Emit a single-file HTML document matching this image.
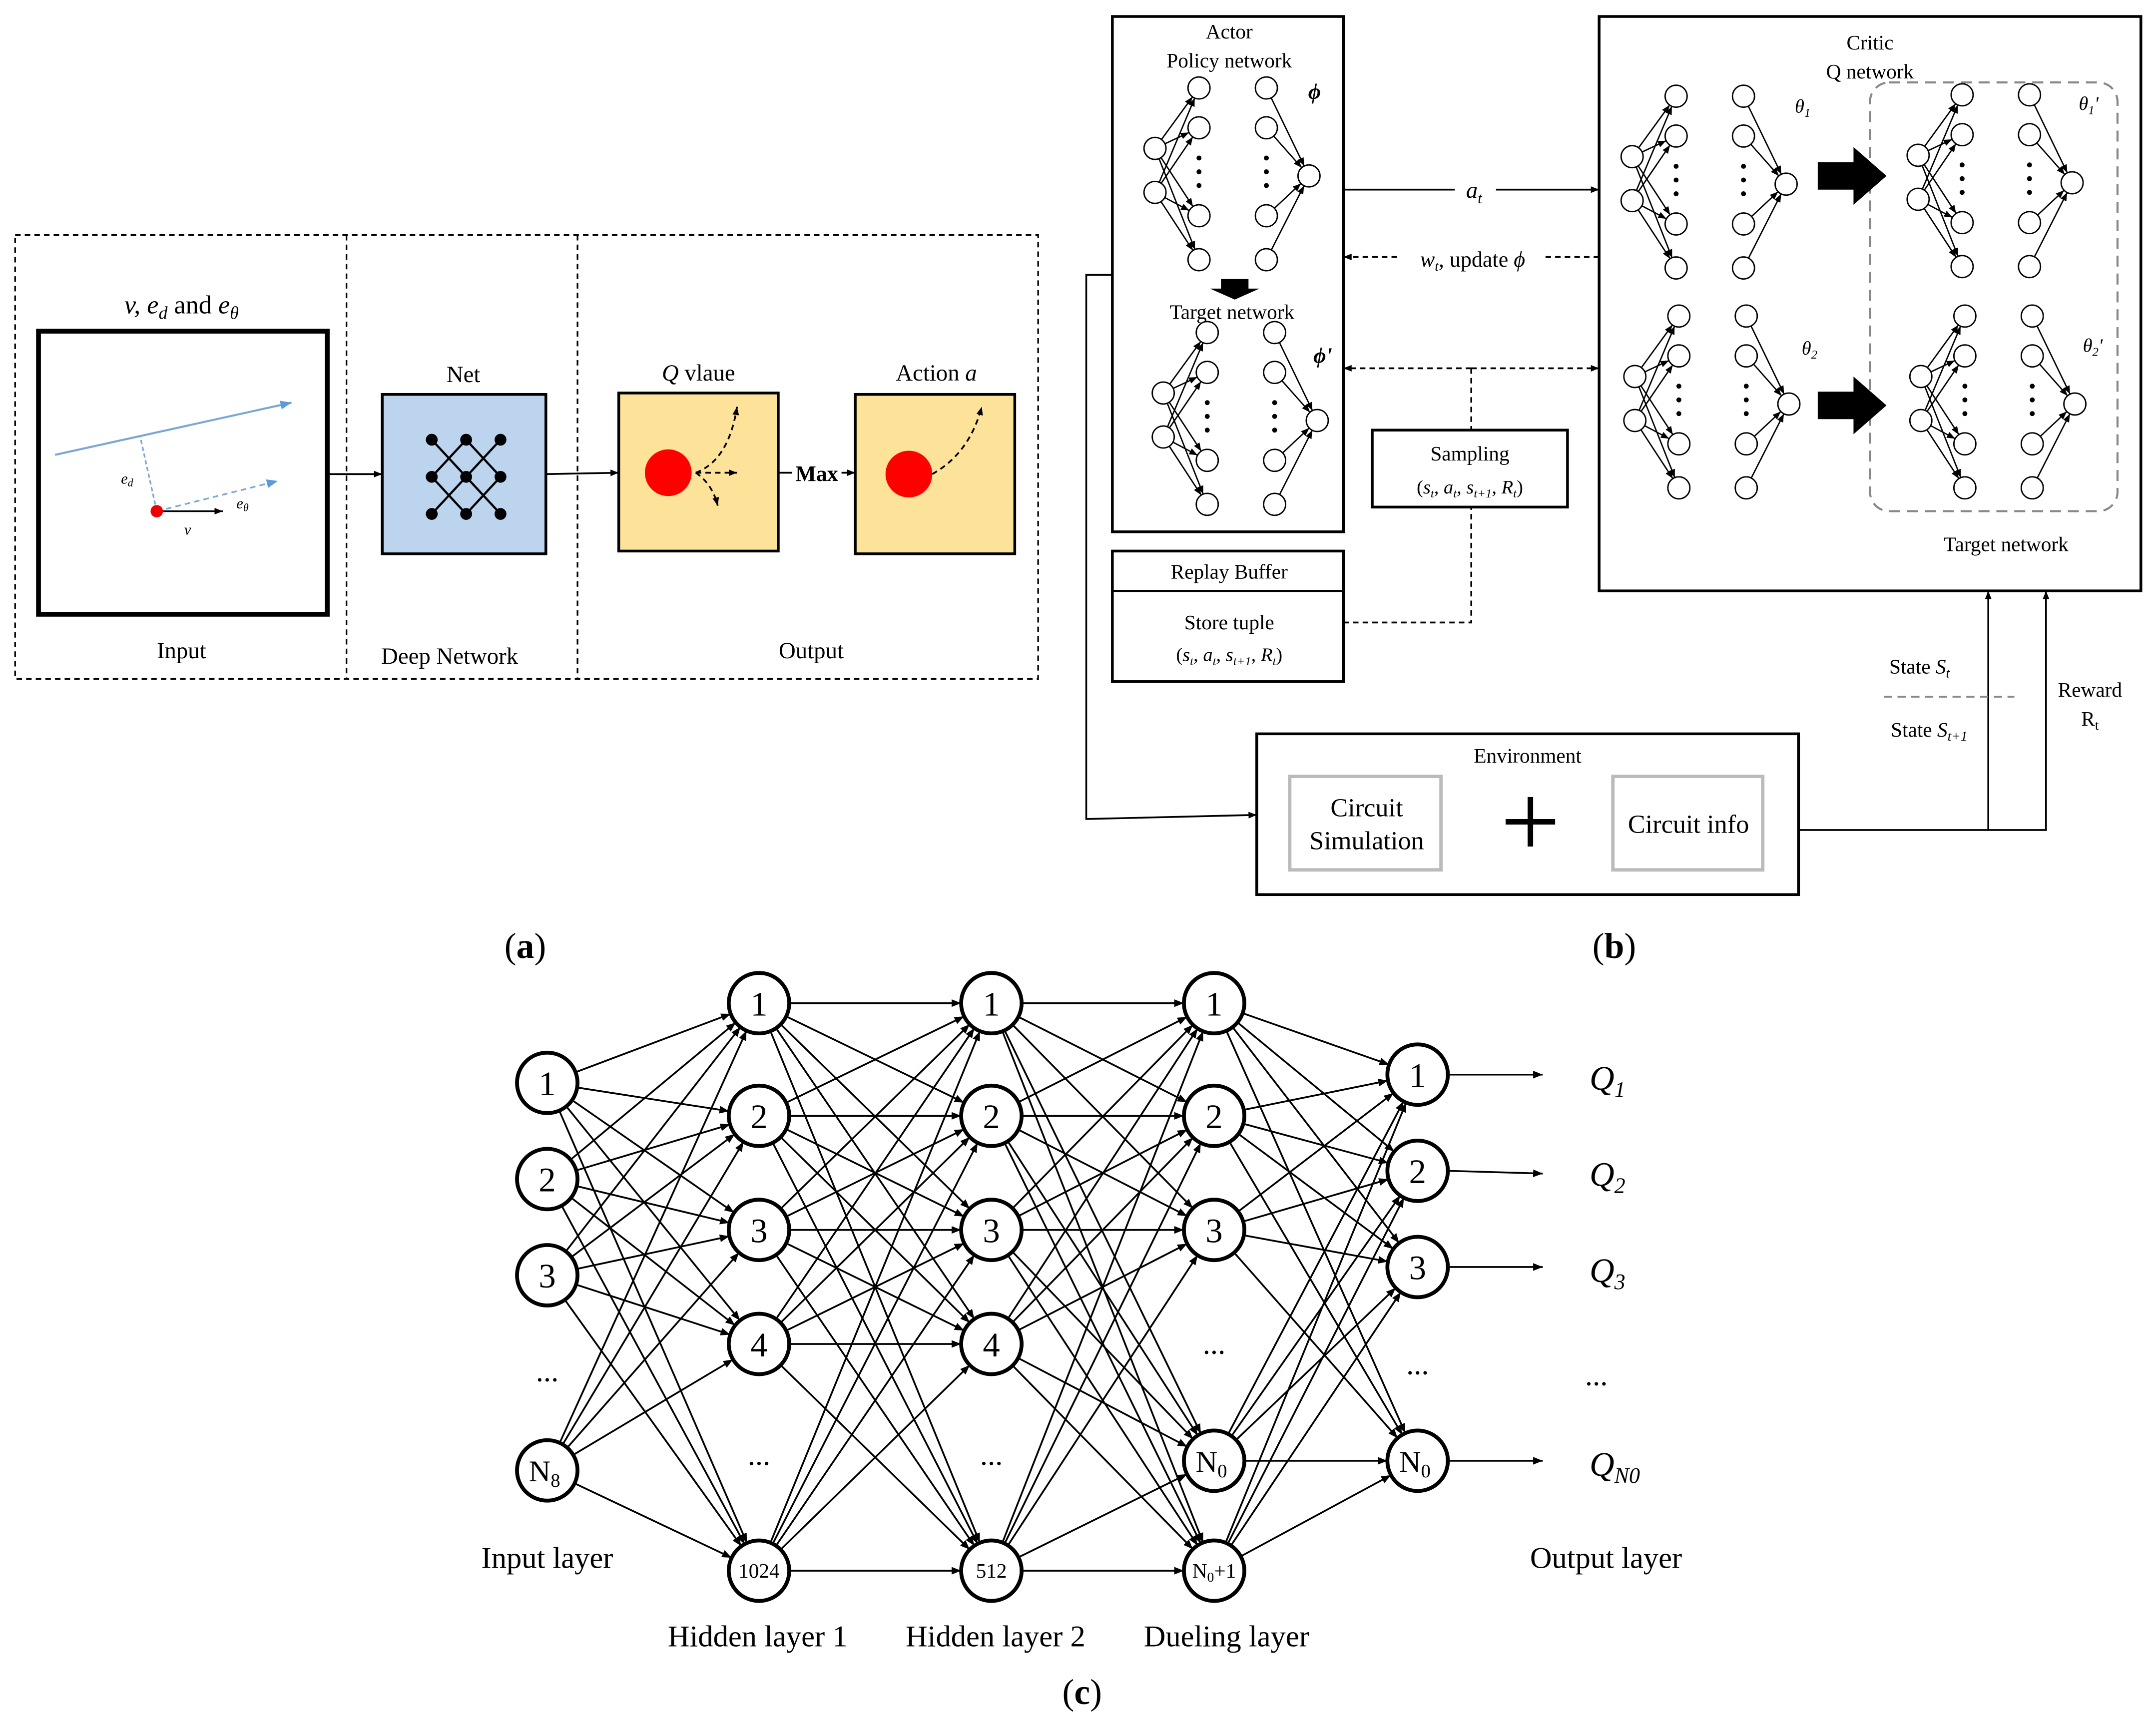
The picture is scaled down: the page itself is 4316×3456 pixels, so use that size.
<!DOCTYPE html>
<html><head><meta charset="utf-8"><style>
html,body{margin:0;padding:0;background:#fff}
svg{display:block}
text{font-family:"Liberation Serif",serif;fill:#000}
</style></head><body>
<svg id="s" width="4316" height="3456" viewBox="0 0 1568 1256" preserveAspectRatio="none" xmlns="http://www.w3.org/2000/svg">
<defs>
<marker id="ar" viewBox="0 0 10 10" refX="10" refY="5" markerWidth="7" markerHeight="7" orient="auto" markerUnits="userSpaceOnUse"><path d="M0,1 L10,5 L0,9 z" fill="#000"/></marker>
<marker id="as" viewBox="0 0 10 10" refX="10" refY="5" markerWidth="6" markerHeight="6" orient="auto" markerUnits="userSpaceOnUse"><path d="M0,1 L10,5 L0,9 z" fill="#000"/></marker>
<marker id="ab" viewBox="0 0 10 10" refX="10" refY="5" markerWidth="8" markerHeight="8" orient="auto" markerUnits="userSpaceOnUse"><path d="M0,1 L10,5 L0,9 z" fill="#5b9bd5"/></marker>
</defs>
<!-- Panel (a) -->
<g fill="none" stroke="#000" stroke-width="1.2" stroke-dasharray="4,3">
<rect x="11" y="171" width="744" height="323"/>
<line x1="252" y1="171" x2="252" y2="494"/>
<line x1="420" y1="171" x2="420" y2="494"/>
</g>
<text x="132" y="228" font-size="19" text-anchor="middle" font-style="italic">v, e<tspan font-size="13" dy="4">d</tspan><tspan dy="-4" font-style="normal"> and </tspan>e<tspan font-size="13" dy="4">θ</tspan></text>
<rect x="28" y="241" width="210" height="206" fill="#fff" stroke="#000" stroke-width="3.5"/>
<line x1="40" y1="331" x2="212" y2="293" stroke="#7aa7d6" stroke-width="1.5" marker-end="url(#ab)"/>
<line x1="114" y1="372" x2="102" y2="318" stroke="#7aa7d6" stroke-width="1.2" stroke-dasharray="3,2"/>
<line x1="114" y1="372" x2="202" y2="350" stroke="#7aa7d6" stroke-width="1.2" stroke-dasharray="4,3" marker-end="url(#ab)"/>
<line x1="114" y1="372" x2="162" y2="372" stroke="#000" stroke-width="1.2" marker-end="url(#as)"/>
<circle cx="114" cy="372" r="4.5" fill="#e00"/>
<text x="88" y="352" font-size="11" font-style="italic">e<tspan font-size="8" dy="2">d</tspan></text>
<text x="172" y="370" font-size="11" font-style="italic">e<tspan font-size="8" dy="2">θ</tspan></text>
<text x="134" y="389" font-size="11" font-style="italic">v</text>
<text x="132" y="479" font-size="17" text-anchor="middle">Input</text>
<line x1="238" y1="345" x2="278" y2="345" stroke="#000" stroke-width="1.3" marker-end="url(#as)"/>
<rect x="278" y="287" width="119" height="116" fill="#bcd4ee" stroke="#000" stroke-width="2"/>
<text x="337" y="278" font-size="17" text-anchor="middle">Net</text>
<g stroke="#000" stroke-width="1.6" id="netx"></g>
<text x="327" y="483" font-size="17" text-anchor="middle">Deep Network</text>
<line x1="397" y1="345" x2="450" y2="344" stroke="#000" stroke-width="1.3" marker-end="url(#as)"/>
<rect x="450" y="286" width="116" height="115" fill="#fde39a" stroke="#000" stroke-width="2"/>
<text x="508" y="277" font-size="17" text-anchor="middle"><tspan font-style="italic">Q</tspan> vlaue</text>
<circle cx="486" cy="344" r="17" fill="#f00"/>
<g fill="none" stroke="#000" stroke-width="1.3" stroke-dasharray="4,3">
<path d="M506,344 Q530,335 536,296" marker-end="url(#as)"/>
<path d="M506,344 L536,344" marker-end="url(#as)"/>
<path d="M506,344 Q518,352 522,368" marker-end="url(#as)"/>
</g>
<line x1="566" y1="344" x2="622" y2="344" stroke="#000" stroke-width="1.3" marker-end="url(#as)"/>
<rect x="576" y="335" width="36" height="18" fill="#fff"/>
<text x="594" y="350" font-size="16" font-weight="bold" text-anchor="middle">Max</text>
<rect x="622" y="287" width="116" height="116" fill="#fde39a" stroke="#000" stroke-width="2"/>
<text x="681" y="277" font-size="17" text-anchor="middle">Action <tspan font-style="italic">a</tspan></text>
<circle cx="661" cy="345" r="17" fill="#f00"/>
<path d="M678,345 Q705,330 714,296" fill="none" stroke="#000" stroke-width="1.3" stroke-dasharray="4,3" marker-end="url(#as)"/>
<text x="590" y="479" font-size="17" text-anchor="middle">Output</text>
<text x="382" y="697" font-size="26" text-anchor="middle">(<tspan font-weight="bold">a</tspan>)</text>

<!-- Panel (b) -->
<g fill="none" stroke="#000" stroke-width="2">
<rect x="809" y="12" width="168" height="375"/>
<rect x="1163" y="12" width="394" height="418"/>
<rect x="809" y="401" width="168" height="95"/>
<rect x="998" y="313" width="142" height="56"/>
<rect x="914" y="534" width="394" height="117"/>
</g>
<line x1="809" y1="430" x2="977" y2="430" stroke="#000" stroke-width="1.5"/>
<rect x="938" y="565" width="110" height="68" fill="none" stroke="#bbb" stroke-width="2.5"/>
<rect x="1173" y="565" width="109" height="68" fill="none" stroke="#bbb" stroke-width="2.5"/>
<rect x="1360" y="60" width="180" height="312" rx="14" fill="none" stroke="#888" stroke-width="1.5" stroke-dasharray="8,5"/>
<text x="894" y="28" font-size="15" text-anchor="middle">Actor</text>
<text x="894" y="49" font-size="15" text-anchor="middle">Policy network</text>
<text x="956" y="72" font-size="16" font-weight="bold" font-style="italic" text-anchor="middle">ϕ</text>
<text x="896" y="232" font-size="15" text-anchor="middle">Target network</text>
<text x="962" y="264" font-size="16" font-weight="bold" font-style="italic" text-anchor="middle">ϕ'</text>
<path d="M888,203 L908,203 L908,210 L916,210 L898,218 L880,210 L888,210 z" fill="#000"/>
<text x="1360" y="36" font-size="15" text-anchor="middle">Critic</text>
<text x="1360" y="57" font-size="15" text-anchor="middle">Q network</text>
<text x="1311" y="82" font-size="14" font-style="italic" text-anchor="middle">θ<tspan font-size="9" dy="3">1</tspan></text>
<text x="1519" y="80" font-size="14" font-style="italic" text-anchor="middle">θ<tspan font-size="9" dy="3">1</tspan><tspan dy="-3">'</tspan></text>
<text x="1316" y="258" font-size="14" font-style="italic" text-anchor="middle">θ<tspan font-size="9" dy="3">2</tspan></text>
<text x="1522" y="256" font-size="14" font-style="italic" text-anchor="middle">θ<tspan font-size="9" dy="3">2</tspan><tspan dy="-3">'</tspan></text>
<text x="1459" y="401" font-size="15" text-anchor="middle">Target network</text>
<path d="M1322,118 L1348,118 L1348,107 L1372,128 L1348,149 L1348,138 L1322,138 z" fill="#000"/>
<path d="M1322,285 L1348,285 L1348,274 L1372,295 L1348,316 L1348,305 L1322,305 z" fill="#000"/>
<g id="smallnets"></g>
<line x1="977" y1="138" x2="1163" y2="138" stroke="#000" stroke-width="1.3" marker-end="url(#as)"/>
<rect x="1058" y="128" width="30" height="18" fill="#fff"/>
<text x="1072" y="144" font-size="17" font-style="italic" text-anchor="middle">a<tspan font-size="11" dy="4">t</tspan></text>
<line x1="1163" y1="187" x2="977" y2="187" stroke="#000" stroke-width="1.3" stroke-dasharray="4,3" marker-end="url(#as)"/>
<rect x="1018" y="178" width="106" height="20" fill="#fff"/>
<text x="1071" y="194" font-size="16" text-anchor="middle"><tspan font-style="italic">w<tspan font-size="10" dy="3">t</tspan></tspan><tspan dy="-3">, update </tspan><tspan font-style="italic">ϕ</tspan></text>
<line x1="1070" y1="268" x2="977" y2="268" stroke="#000" stroke-width="1.3" stroke-dasharray="4,3" marker-end="url(#as)"/>
<line x1="1070" y1="268" x2="1163" y2="268" stroke="#000" stroke-width="1.3" stroke-dasharray="4,3" marker-end="url(#as)"/>
<line x1="1070" y1="268" x2="1070" y2="313" stroke="#000" stroke-width="1.3" stroke-dasharray="4,3"/>
<polyline points="977,453 1070,453 1070,369" fill="none" stroke="#000" stroke-width="1.3" stroke-dasharray="4,3"/>
<text x="1069" y="335" font-size="15" text-anchor="middle">Sampling</text>
<text x="1069" y="359" font-size="14" text-anchor="middle">(<tspan font-style="italic">s<tspan font-size="9" dy="3">t</tspan><tspan dy="-3">, a</tspan><tspan font-size="9" dy="3">t</tspan><tspan dy="-3">, s</tspan><tspan font-size="9" dy="3">t+1</tspan><tspan dy="-3">, R</tspan><tspan font-size="9" dy="3">t</tspan></tspan><tspan dy="-3">)</tspan></text>
<text x="894" y="421" font-size="15" text-anchor="middle">Replay Buffer</text>
<text x="894" y="458" font-size="15" text-anchor="middle">Store tuple</text>
<text x="894" y="481" font-size="14" text-anchor="middle">(<tspan font-style="italic">s<tspan font-size="9" dy="3">t</tspan><tspan dy="-3">, a</tspan><tspan font-size="9" dy="3">t</tspan><tspan dy="-3">, s</tspan><tspan font-size="9" dy="3">t+1</tspan><tspan dy="-3">, R</tspan><tspan font-size="9" dy="3">t</tspan></tspan><tspan dy="-3">)</tspan></text>
<polyline points="809,200 790,200 790,596 914,593" fill="none" stroke="#000" stroke-width="1.3" marker-end="url(#as)"/>
<text x="1111" y="555" font-size="15" text-anchor="middle">Environment</text>
<text x="994" y="594" font-size="19" text-anchor="middle">Circuit</text>
<text x="994" y="618" font-size="19" text-anchor="middle">Simulation</text>
<text x="1228" y="606" font-size="19" text-anchor="middle">Circuit info</text>
<path d="M1113,580 v36 M1095,598 h36" stroke="#000" stroke-width="4"/>
<polyline points="1308,604 1488,604 1488,430" fill="none" stroke="#000" stroke-width="1.3" marker-end="url(#as)"/>
<line x1="1446" y1="604" x2="1446" y2="430" stroke="#000" stroke-width="1.3" marker-end="url(#as)"/>
<text x="1396" y="490" font-size="15" text-anchor="middle">State <tspan font-style="italic">S<tspan font-size="10" dy="3">t</tspan></tspan></text>
<line x1="1370" y1="507" x2="1465" y2="507" stroke="#888" stroke-width="1.3" stroke-dasharray="6,4"/>
<text x="1403" y="536" font-size="15" text-anchor="middle">State <tspan font-style="italic">S<tspan font-size="10" dy="3">t+1</tspan></tspan></text>
<text x="1520" y="507" font-size="15" text-anchor="middle">Reward</text>
<text x="1520" y="528" font-size="15" text-anchor="middle">R<tspan font-size="10" dy="3">t</tspan></text>
<text x="1174" y="697" font-size="26" text-anchor="middle">(<tspan font-weight="bold">b</tspan>)</text>

<!-- Panel (c) -->
<g id="bignet"></g>
<text x="398" y="1141" font-size="22" text-anchor="middle">Input layer</text>
<text x="551" y="1198" font-size="22" text-anchor="middle">Hidden layer 1</text>
<text x="724" y="1198" font-size="22" text-anchor="middle">Hidden layer 2</text>
<text x="892" y="1198" font-size="22" text-anchor="middle">Dueling layer</text>
<text x="1168" y="1141" font-size="22" text-anchor="middle">Output layer</text>
<text x="787" y="1240" font-size="26" text-anchor="middle">(<tspan font-weight="bold">c</tspan>)</text>
</svg>
<script>
var NS="http://www.w3.org/2000/svg";
function el(p,t,a,txt){var e=document.createElementNS(NS,t);for(var k in a)e.setAttribute(k,a[k]);if(txt!=null)e.textContent=txt;p.appendChild(e);return e;}
// net icon
var nx=document.getElementById('netx');
var P=[[314,320],[339,320],[364,320],[314,347],[339,347],[364,347],[314,374],[339,374],[364,374]];
[[0,4],[4,8],[2,4],[4,6],[1,3],[3,7],[1,5],[5,7],[0,3],[2,5]].forEach(function(e){});
// X pattern: diagonals
var pairs=[[0,8],[2,6],[1,3],[1,5],[3,7],[5,7]];
pairs.forEach(function(q){el(nx,'line',{x1:P[q[0]][0],y1:P[q[0]][1],x2:P[q[1]][0],y2:P[q[1]][1]});});
P.forEach(function(p){el(nx,'circle',{cx:p[0],cy:p[1],r:3.5,fill:'#000'});});
// small nets
var sn=document.getElementById('smallnets');
function small(ox,oy){
 var ins=[[840,108],[840,140]],h1=[[872,64],[872,93],[872,157],[872,189]],h2=[[921,64],[921,93],[921,157],[921,189]],out=[952,128],r=8;
 function T(p){return [p[0]+ox,p[1]+oy];}
 ins.forEach(function(a){a=T(a);h1.forEach(function(b){b=T(b);var dx=b[0]-a[0],dy=b[1]-a[1],d=Math.hypot(dx,dy);
  el(sn,'line',{x1:a[0]+dx/d*r,y1:a[1]+dy/d*r,x2:b[0]-dx/d*r,y2:b[1]-dy/d*r,stroke:'#000','stroke-width':1,'marker-end':'url(#as)'});});});
 var o=T(out);h2.forEach(function(a){a=T(a);var dx=o[0]-a[0],dy=o[1]-a[1],d=Math.hypot(dx,dy);
  el(sn,'line',{x1:a[0]+dx/d*r,y1:a[1]+dy/d*r,x2:o[0]-dx/d*r,y2:o[1]-dy/d*r,stroke:'#000','stroke-width':1,'marker-end':'url(#as)'});});
 ins.concat(h1,h2,[out]).forEach(function(p){p=T(p);el(sn,'circle',{cx:p[0],cy:p[1],r:r,fill:'#fff',stroke:'#000','stroke-width':1});});
 [872,921].forEach(function(x){[115,125,135].forEach(function(y){el(sn,'circle',{cx:x+ox,cy:y+oy,r:1.8,fill:'#000'});});});
}
small(0,0);small(6,178);small(347,6);small(555,5);small(349,166);small(557,166);
// big net
var bn=document.getElementById('bignet');
var L=[
 {x:398,n:[[788,'1'],[858,'2'],[928,'3'],[1070,'N8']],dots:1005},
 {x:552,n:[[730,'1'],[812,'2'],[895,'3'],[978,'4'],[1143,'1024']],dots:1066},
 {x:721,n:[[730,'1'],[812,'2'],[895,'3'],[978,'4'],[1143,'512']],dots:1066},
 {x:883,n:[[730,'1'],[812,'2'],[895,'3'],[1063,'N0'],[1143,'N0+1']],dots:985},
 {x:1031,n:[[782,'1'],[852,'2'],[922,'3'],[1063,'N0']],dots:1000}
];
var R=22;
for(var i=0;i<4;i++){var A=L[i],B=L[i+1];A.n.forEach(function(a){B.n.forEach(function(b){
 var dx=B.x-A.x,dy=b[0]-a[0],d=Math.hypot(dx,dy);
 el(bn,'line',{x1:A.x+dx/d*R,y1:a[0]+dy/d*R,x2:B.x-dx/d*R,y2:b[0]-dy/d*R,stroke:'#000','stroke-width':1.3,'marker-end':'url(#ar)'});});});}
L.forEach(function(l){l.n.forEach(function(n){
 el(bn,'circle',{cx:l.x,cy:n[0],r:R,fill:'#fff',stroke:'#000','stroke-width':2.8});
 var t=n[1];
 if(t=='N8'||t=='N0'){var tx=el(bn,'text',{x:l.x-2,y:n[0]+8,'font-size':22,'text-anchor':'middle'},'N');el(tx,'tspan',{'font-size':14,dy:4},t.slice(1));}
 else if(t=='N0+1'){var tx=el(bn,'text',{x:l.x,y:n[0]+5,'font-size':15,'text-anchor':'middle'},'N');el(tx,'tspan',{'font-size':10,dy:3},'0');el(tx,'tspan',{dy:-3},'+1');}
 else if(t.length>2){el(bn,'text',{x:l.x,y:n[0]+5,'font-size':15,'text-anchor':'middle'},t);}
 else el(bn,'text',{x:l.x,y:n[0]+9,'font-size':25,'text-anchor':'middle'},t);
});
 el(bn,'text',{x:l.x,y:l.dots,'font-size':22,'text-anchor':'middle'},'...');});
var Q=[[782,'1'],[852,'2'],[922,'3'],[1063,'N0']];
Q.forEach(function(q){el(bn,'line',{x1:1053,y1:q[0],x2:1122,y2:q[0]+(q[1]=='2'?2:0),stroke:'#000','stroke-width':1.3,'marker-end':'url(#ar)'});
 var t=el(bn,'text',{x:1156,y:q[0]+11,'font-size':25,'font-style':'italic'},'Q');el(t,'tspan',{'font-size':16,dy:5},q[1]);});
el(bn,'text',{x:1161,y:1008,'font-size':22,'text-anchor':'middle'},'...');
</script>
</body></html>
